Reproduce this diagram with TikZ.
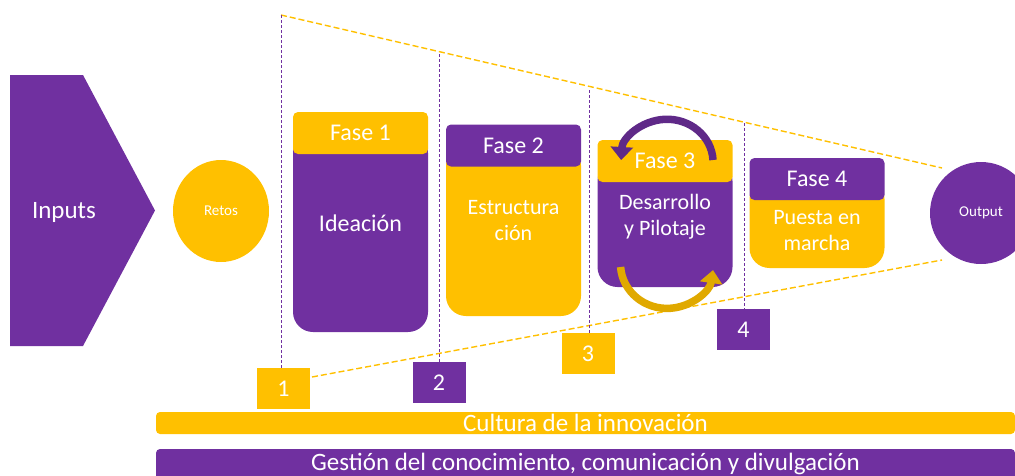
\documentclass[tikz,border=0pt]{standalone}
\usepackage{fontspec}
\setmainfont{Carlito}
\usetikzlibrary{arrows.meta,shapes.geometric,positioning}
\definecolor{Purple}{HTML}{7030A0}
\definecolor{Gold}{HTML}{FFC000}

\begin{document}
\begin{tikzpicture}[x=1pt, y=-1pt,
		PhaseHead/.style={rectangle, rounded corners=5pt, minimum width=\PhaseWidth pt, minimum height=\HeadHeight pt, inner sep=0pt, text=white, font=\fontsize{24}{28}\selectfont},
		PhaseBody/.style={rectangle, rounded corners=20pt, minimum width=\PhaseWidth pt, inner sep=0pt},
		BodyText/.style={text=white, align=center, inner sep=0pt, font=\fontsize{22}{26}\selectfont},
		NumBox/.style={rectangle, minimum width=53pt, minimum height=41pt, inner sep=0pt, text=white, font=\fontsize{24}{28}\selectfont},
		BarBox/.style={rectangle, rounded corners=4pt, minimum width=859pt, inner sep=0pt},
		BarText/.style={text=white, inner sep=0pt, font=\fontsize{25}{29}\selectfont},
		StageLine/.style={Purple, dash pattern=on 3pt off 2pt, line width=0.9pt},
		ConeLine/.style={Gold, dash pattern=on 6pt off 3pt, line width=1.4pt},
		LoopArrow/.style={line width=7.5pt, -{Triangle[width=22pt,length=13pt]}}]
			\pgfmathsetmacro{\PhaseWidth}{135}
			\pgfmathsetmacro{\HeadHeight}{42}
			\useasboundingbox (0,0) rectangle (1015,475);
			
			\coordinate (StageOneTop) at (281,15);
			\coordinate (StageTwoTop) at (439,54);
			\coordinate (StageThreeTop) at (589,90);
			\coordinate (StageFourTop) at (744,123);
			\coordinate (ConeUpperEnd) at (942,168);
			\coordinate (ConeLowerStart) at (312,377);
			\coordinate (ConeLowerEnd) at (942,260);
			
			\node[NumBox, fill=Gold] (NumOne) at (283.5,388.5) {1};
			\node[NumBox, fill=Purple] (NumTwo) at (439,382.5) {2};
			\node[NumBox, fill=Gold] (NumThree) at (588,353.5) {3};
			\node[NumBox, fill=Purple] (NumFour) at (743.5,329.5) {4};
			
			\draw[ConeLine] (StageOneTop) -- (ConeUpperEnd);
			\draw[ConeLine] (ConeLowerStart) -- (ConeLowerEnd);
			\draw[StageLine] (StageOneTop) -- (StageOneTop |- NumOne.north);
			\draw[StageLine] (StageTwoTop) -- (StageTwoTop |- NumTwo.north);
			\draw[StageLine] (StageThreeTop) -- (StageThreeTop |- NumThree.north);
			\draw[StageLine] (StageFourTop) -- (StageFourTop |- NumFour.north);
			
			\fill[Purple] (10,75) -- (83,75) -- (155,210.5) -- (83,346) -- (10,346) -- cycle;
			\node[text=white, font=\fontsize{25}{30}\selectfont] (Inputs) at (64,212) {Inputs};
			\node[ellipse, fill=Gold, minimum width=96pt, minimum height=102pt, inner sep=0pt, text=white, font=\fontsize{15}{18}\selectfont] (Retos) at (221,211) {Retos};
			\node[circle, fill=Purple, minimum size=102pt, inner sep=0pt, text=white, font=\fontsize{15}{18}\selectfont] (Output) at (981,213) {Output};
			
			\node[PhaseBody, fill=Purple, minimum height=199pt] (IdeaBody) at (360.5,232.5) {};
			\node[PhaseHead, fill=Gold] (IdeaHead) at (360.5,133) {Fase 1};
			\node[BodyText, font=\fontsize{24}{28}\selectfont] (IdeaText) at (360.5,223) {Ideación};
			
			\node[PhaseBody, fill=Gold, minimum height=170.5pt] (StructBody) at (513.5,230.75) {};
			\node[PhaseHead, fill=Purple] (StructHead) at (513.5,145.5) {Fase 2};
			\node[BodyText] (StructText) at (513.5,221) {Estructura\\ción};
			
			\node[PhaseBody, fill=Purple, minimum height=126pt] (PilotBody) at (665,224) {};
			\node[PhaseHead, fill=Gold] (PilotHead) at (665,161) {Fase 3};
			\node[BodyText] (PilotText) at (665,217) {Desarrollo\\y Pilotaje};
			
			\node[PhaseBody, fill=Gold, minimum height=89pt] (LaunchBody) at (817,223.5) {};
			\node[PhaseHead, fill=Purple] (LaunchHead) at (817,179) {Fase 4};
			\node[BodyText] (LaunchText) at (817,231) {Puesta en\\marcha};
			
			\node[BarBox, fill=Gold, minimum height=22pt] (CultureBar) at (585.5,423) {};
			\node[BarText, anchor=base] (CultureText) at (585.5,431.5) {Cultura de la innovación};
			\node[BarBox, fill=Purple, minimum height=32pt] (KnowledgeBar) at (585.5,465) {};
			\node[BarText, anchor=base] (KnowledgeText) at (585.5,470) {Gestión del conocimiento, comunicación y divulgación};
			
			\coordinate (LoopTopStart) at (713,160);
			\coordinate (LoopBottomStart) at (620.6,267);
			\draw[LoopArrow, Purple!85!black] (LoopTopStart) arc[start angle=-3, end angle=-177, x radius=46, y radius=43];
			\draw[LoopArrow, Gold!88!black] (LoopBottomStart) arc[start angle=176, end angle=8, x radius=46.5, y radius=44.5];
		\end{tikzpicture}
\end{document}
